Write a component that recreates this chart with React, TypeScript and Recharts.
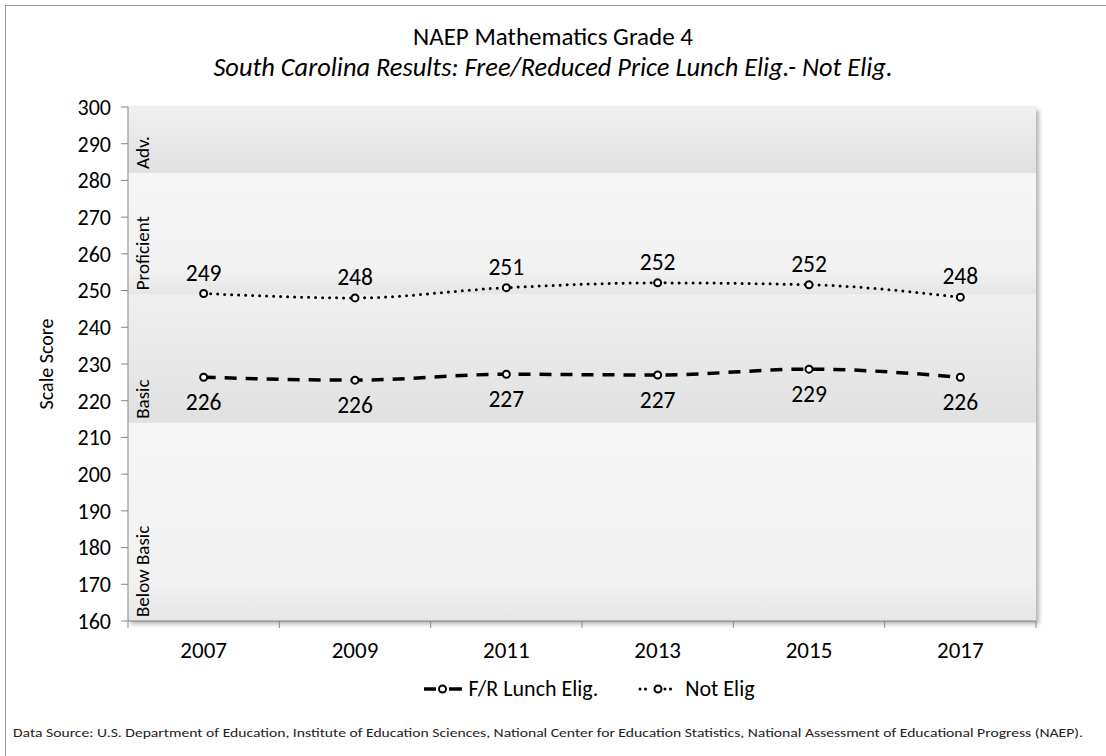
import { LineChart, Line, XAxis, YAxis, CartesianGrid, ReferenceArea, LabelList } from 'recharts';

const years = ['2007', '2009', '2011', '2013', '2015', '2017'];
const frLunch = [226.4, 225.6, 227.2, 227.0, 228.6, 226.4];
const notElig = [249.2, 248.0, 250.8, 252.1, 251.6, 248.2];
const yTicks = [160, 170, 180, 190, 200, 210, 220, 230, 240, 250, 260, 270, 280, 290, 300];

const bandNames = ['Below Basic', 'Basic', 'Proficient', 'Adv.'];
const bandFrom = [160, 214, 249, 282];
const bandTo = [214, 249, 282, 300];

const FONT = 'Carlito, Calibri, Lato, sans-serif';
const W = 1106;
const H = 756;
const PLOT_LEFT = 128;
const PLOT_RIGHT = 1036;
const PLOT_TOP = 107;
const PLOT_BOTTOM = 621;
const HALF_BAND = (PLOT_RIGHT - PLOT_LEFT) / years.length / 2;

const data = years.map((year, i) => ({ year, fr: frLunch[i], not: notElig[i] }));
const firstYear = years[0];
const lastYear = years[years.length - 1];

const YearTick = (props: any) => {
  const { x, y, payload, index } = props;
  return (
    <g>
      <line x1={x - HALF_BAND} x2={x - HALF_BAND} y1={y} y2={y + 7} stroke="#868686" />
      {index === years.length - 1 && (
        <line x1={x + HALF_BAND} x2={x + HALF_BAND} y1={y} y2={y + 7} stroke="#868686" />
      )}
      <text x={x} y={y + 37} textAnchor="middle" fontSize={23} fill="#000" fontFamily={FONT}>
        {payload.value}
      </text>
    </g>
  );
};

// band name written upward, starting at the bottom of each band
const BandLabel = (props: any) => {
  const { viewBox, value } = props;
  const x = viewBox.x + 21;
  const y = viewBox.y + viewBox.height - 4;
  return (
    <text x={x} y={y} transform={`rotate(-90 ${x} ${y})`} fontSize={19} fill="#000" fontFamily={FONT}>
      {value}
    </text>
  );
};

const DashIcon = () => (
  <svg width={40} height={14} style={{ verticalAlign: 'middle' }}>
    <line x1={1} x2={13} y1={7} y2={7} stroke="#000" strokeWidth={3.5} />
    <line x1={26} x2={39} y1={7} y2={7} stroke="#000" strokeWidth={3.5} />
    <circle cx={19.5} cy={7} r={3.5} fill="#fff" stroke="#000" strokeWidth={2} />
  </svg>
);

const DotIcon = () => (
  <svg width={44} height={14} style={{ verticalAlign: 'middle' }}>
    <line x1={4} x2={15} y1={7} y2={7} stroke="#000" strokeWidth={3} strokeDasharray="0 5.5" strokeLinecap="round" />
    <line x1={29} x2={40} y1={7} y2={7} stroke="#000" strokeWidth={3} strokeDasharray="0 5.5" strokeLinecap="round" />
    <circle cx={22} cy={7} r={3.5} fill="#fff" stroke="#000" strokeWidth={2} />
  </svg>
);

export default function App() {
  return (
    <div style={{ position: 'absolute', left: 0, top: 0, width: W, height: H, background: '#fff', overflow: 'hidden', fontFamily: FONT }}>
      <div style={{ position: 'absolute', left: 5, top: 5, width: W + 20, height: H + 20, border: '1px solid #9a9a9a' }} />
      <div style={{ position: 'absolute', left: 0, width: W, top: 24, textAlign: 'center', fontSize: 25, color: '#000', lineHeight: '26px' }}>
        NAEP Mathematics Grade 4
      </div>
      <div style={{ position: 'absolute', left: 0, width: W, top: 54, textAlign: 'center', fontSize: 26.4, fontStyle: 'italic', color: '#000', lineHeight: '27px' }}>
        South Carolina Results: Free/Reduced Price Lunch Elig.- Not Elig.
      </div>

      <div style={{ position: 'absolute', left: 0, top: 0 }}>
        <LineChart
          width={W}
          height={H}
          data={data}
          margin={{ top: PLOT_TOP, left: PLOT_LEFT - 60, right: W - PLOT_RIGHT, bottom: H - PLOT_BOTTOM - 40 }}
        >
          <defs>
            <linearGradient id="darkBand" x1="0" y1="0" x2="0" y2="1">
              <stop offset="0%" stopColor="#f0f0f0" />
              <stop offset="100%" stopColor="#e1e1e1" />
            </linearGradient>
            <linearGradient id="lightBand" x1="0" y1="0" x2="0" y2="1">
              <stop offset="0%" stopColor="#f6f6f6" />
              <stop offset="80%" stopColor="#f2f2f2" />
              <stop offset="100%" stopColor="#e6e6e6" />
            </linearGradient>
            <filter id="plotShadow" x="-5%" y="-5%" width="110%" height="110%">
              <feDropShadow dx="3" dy="3" stdDeviation="2" floodColor="#000" floodOpacity="0.3" />
            </filter>
          </defs>
          {/* hidden point axis without padding: first year at left edge, last at right edge */}
          <XAxis xAxisId="band" dataKey="year" hide />
          <ReferenceArea xAxisId="band" x1={firstYear} x2={lastYear} y1={160} y2={300} fill="#f5f5f5" fillOpacity={1} filter="url(#plotShadow)" />
          {bandNames.map((name, i) => (
            <ReferenceArea
              key={name}
              xAxisId="band"
              x1={firstYear}
              x2={lastYear}
              y1={bandFrom[i]}
              y2={bandTo[i]}
              fill={i % 2 === 1 ? 'url(#darkBand)' : 'url(#lightBand)'}
              fillOpacity={1}
              label={<BandLabel value={name} />}
            />
          ))}
          <CartesianGrid vertical={false} stroke="#dcdcdc" />
          <XAxis
            dataKey="year"
            padding={{ left: HALF_BAND, right: HALF_BAND }}
            axisLine={{ stroke: '#868686' }}
            tickLine={false}
            tickSize={0}
            tickMargin={0}
            tick={<YearTick />}
            height={40}
            interval={0}
          />
          <YAxis
            domain={[160, 300]}
            ticks={yTicks}
            interval={0}
            width={60}
            axisLine={{ stroke: '#868686' }}
            tickLine={{ stroke: '#868686' }}
            tickSize={7}
            tickMargin={10}
            tick={{ fontSize: 22, fill: '#000', fontFamily: FONT }}
          />
          <Line
            type="monotone"
            dataKey="fr"
            stroke="#000"
            strokeWidth={3.5}
            strokeDasharray="12 9"
            dot={{ r: 3.5, fill: '#fff', stroke: '#000', strokeWidth: 2, strokeDasharray: '' }}
            isAnimationActive={false}
          >
            <LabelList
              dataKey="fr"
              position="bottom"
              offset={16}
              formatter={(v: any) => Math.round(Number(v))}
              style={{ fontSize: 23.5, fill: '#000', fontFamily: FONT }}
            />
          </Line>
          <Line
            type="monotone"
            dataKey="not"
            stroke="#000"
            strokeWidth={3}
            strokeDasharray="0 7"
            strokeLinecap="round"
            dot={{ r: 3.5, fill: '#fff', stroke: '#000', strokeWidth: 2, strokeDasharray: '' }}
            isAnimationActive={false}
          >
            <LabelList
              dataKey="not"
              position="top"
              offset={13}
              formatter={(v: any) => Math.round(Number(v))}
              style={{ fontSize: 23.5, fill: '#000', fontFamily: FONT }}
            />
          </Line>
        </LineChart>
      </div>

      <div
        style={{
          position: 'absolute',
          left: 46,
          top: 364,
          transform: 'translate(-50%, -50%) rotate(-90deg)',
          fontSize: 20,
          whiteSpace: 'nowrap',
          color: '#000',
        }}
      >
        Scale Score
      </div>

      <div style={{ position: 'absolute', left: 36, width: W, top: 675, textAlign: 'center', fontSize: 22, color: '#000', whiteSpace: 'nowrap', lineHeight: '24px' }}>
        <DashIcon /> <span style={{ verticalAlign: 'middle' }}>F/R Lunch Elig.</span>
        <span style={{ display: 'inline-block', width: 38 }} />
        <DotIcon /> <span style={{ verticalAlign: 'middle' }}>Not Elig</span>
      </div>

      <svg style={{ position: 'absolute', left: 0, top: 724 }} width={W} height={20}>
        <text x={13} y={13} fontSize={12} fontFamily={FONT} textLength={1070} lengthAdjust="spacingAndGlyphs" fill="#222">
          Data Source: U.S. Department of Education, Institute of Education Sciences, National Center for Education Statistics, National Assessment of Educational Progress (NAEP).
        </text>
      </svg>
    </div>
  );
}
